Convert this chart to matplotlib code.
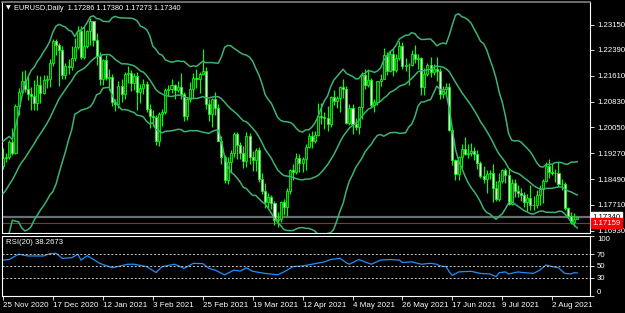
import numpy as np
import pandas as pd
import matplotlib
matplotlib.use('Agg')
import matplotlib.pyplot as plt
from matplotlib.transforms import blended_transform_factory

plt.rcParams['font.family'] = ['Liberation Sans', 'DejaVu Sans']

# EURUSD daily, 25 Nov 2020 .. 12 Aug 2021 (one entry per bar)
open_ = [1.1889, 1.1914, 1.1916, 1.1962, 1.1927, 1.2071, 1.2112, 1.2146, 1.2120, 1.2107,
         1.2100, 1.2079, 1.2133, 1.2110, 1.2148, 1.2150, 1.2199, 1.2266, 1.2254, 1.2239,
         1.2163, 1.2189, 1.2186, 1.2215, 1.2249, 1.2295, 1.2216, 1.2250, 1.2297, 1.2325,
         1.2270, 1.2219, 1.2151, 1.2208, 1.2155, 1.2156, 1.2081, 1.2076, 1.2131, 1.2106,
         1.2165, 1.2170, 1.2140, 1.2160, 1.2111, 1.2124, 1.2136, 1.2059, 1.2040, 1.2036,
         1.1963, 1.2046, 1.2050, 1.2118, 1.2120, 1.2134, 1.2118, 1.2126, 1.2106, 1.2040,
         1.2091, 1.2121, 1.2155, 1.2150, 1.2166, 1.2175, 1.2075, 1.2046, 1.2092, 1.2063,
         1.1965, 1.1916, 1.1847, 1.1899, 1.1928, 1.1984, 1.1952, 1.1929, 1.1903, 1.1978,
         1.1916, 1.1905, 1.1938, 1.1850, 1.1812, 1.1780, 1.1795, 1.1778, 1.1726, 1.1728,
         1.1779, 1.1764, 1.1813, 1.1875, 1.1870, 1.1914, 1.1898, 1.1910, 1.1947, 1.1979,
         1.1965, 1.1982, 1.2038, 1.2036, 1.2034, 1.2014, 1.2097, 1.2085, 1.2094, 1.2127,
         1.2122, 1.2019, 1.2063, 1.2016, 1.2005, 1.2068, 1.2164, 1.2133, 1.2149, 1.2073,
         1.2081, 1.2144, 1.2152, 1.2224, 1.2174, 1.2228, 1.2179, 1.2214, 1.2250, 1.2191,
         1.2193, 1.2192, 1.2228, 1.2212, 1.2213, 1.2126, 1.2166, 1.2193, 1.2172, 1.2180,
         1.2174, 1.2107, 1.2120, 1.2126, 1.1997, 1.1905, 1.1863, 1.1916, 1.1941, 1.1926,
         1.1928, 1.1935, 1.1924, 1.1896, 1.1858, 1.1848, 1.1865, 1.1866, 1.1822, 1.1790,
         1.1843, 1.1875, 1.1860, 1.1775, 1.1836, 1.1812, 1.1806, 1.1801, 1.1780, 1.1793,
         1.1771, 1.1770, 1.1801, 1.1818, 1.1843, 1.1888, 1.1869, 1.1868, 1.1867, 1.1835,
         1.1834, 1.1761, 1.1737, 1.1718, 1.17286]
high = [1.1942, 1.1928, 1.1966, 1.2003, 1.2077, 1.2124, 1.2175, 1.2178, 1.2167, 1.2127,
        1.2148, 1.2163, 1.2160, 1.2162, 1.2162, 1.2212, 1.2273, 1.2272, 1.2260, 1.2250,
        1.2199, 1.2212, 1.2250, 1.2276, 1.2310, 1.2310, 1.2310, 1.2300, 1.2335, 1.2326,
        1.2290, 1.2232, 1.2212, 1.2222, 1.2180, 1.2166, 1.2092, 1.2144, 1.2150, 1.2173,
        1.2190, 1.2177, 1.2170, 1.2171, 1.2137, 1.2152, 1.2145, 1.2075, 1.2058, 1.2043,
        1.2051, 1.2060, 1.2125, 1.2132, 1.2150, 1.2137, 1.2144, 1.2169, 1.2112, 1.2096,
        1.2143, 1.2169, 1.2181, 1.2173, 1.2243, 1.2186, 1.2091, 1.2093, 1.2113, 1.2075,
        1.1978, 1.1922, 1.1915, 1.1937, 1.1990, 1.1990, 1.1962, 1.1950, 1.1990, 1.1989,
        1.1934, 1.1942, 1.1945, 1.1866, 1.1836, 1.1808, 1.1800, 1.1782, 1.1749, 1.1782,
        1.1790, 1.1822, 1.1880, 1.1895, 1.1928, 1.1926, 1.1917, 1.1955, 1.1989, 1.1994,
        1.1995, 1.2079, 1.2080, 1.2050, 1.2071, 1.2100, 1.2117, 1.2100, 1.2130, 1.2150,
        1.2131, 1.2077, 1.2075, 1.2034, 1.2071, 1.2173, 1.2182, 1.2182, 1.2154, 1.2090,
        1.2146, 1.2166, 1.2245, 1.2233, 1.2235, 1.2244, 1.2225, 1.2266, 1.2262, 1.2213,
        1.2200, 1.2238, 1.2255, 1.2227, 1.2216, 1.2183, 1.2198, 1.2218, 1.2195, 1.2218,
        1.2183, 1.2131, 1.2140, 1.2138, 1.2002, 1.1911, 1.1920, 1.1954, 1.1975, 1.1954,
        1.1957, 1.1946, 1.1936, 1.1904, 1.1889, 1.1875, 1.1876, 1.1895, 1.1843, 1.1868,
        1.1880, 1.1881, 1.1881, 1.1850, 1.1849, 1.1830, 1.1823, 1.1809, 1.1805, 1.1832,
        1.1798, 1.1817, 1.1830, 1.1849, 1.1900, 1.1909, 1.1893, 1.1880, 1.1900, 1.1850,
        1.1840, 1.1765, 1.1750, 1.1745, 1.17380]
low = [1.1880, 1.1900, 1.1910, 1.1923, 1.1925, 1.2041, 1.2110, 1.2112, 1.2088, 1.2058,
       1.2058, 1.2057, 1.2080, 1.2105, 1.2125, 1.2128, 1.2191, 1.2223, 1.2129, 1.2152,
       1.2150, 1.2165, 1.2178, 1.2205, 1.2242, 1.2210, 1.2211, 1.2245, 1.2255, 1.2250,
       1.2193, 1.2132, 1.2132, 1.2147, 1.2117, 1.2071, 1.2053, 1.2062, 1.2082, 1.2092,
       1.2140, 1.2116, 1.2118, 1.2058, 1.2079, 1.2106, 1.2051, 1.2004, 1.2010, 1.1952,
       1.1950, 1.2010, 1.2044, 1.2100, 1.2110, 1.2092, 1.2112, 1.2092, 1.2023, 1.2026,
       1.2083, 1.2091, 1.2123, 1.2110, 1.2162, 1.2061, 1.2023, 1.2005, 1.2043, 1.1963,
       1.1893, 1.1836, 1.1835, 1.1871, 1.1916, 1.1910, 1.1910, 1.1883, 1.1884, 1.1894,
       1.1873, 1.1874, 1.1840, 1.1805, 1.1761, 1.1762, 1.1760, 1.1711, 1.1704, 1.1718,
       1.1739, 1.1736, 1.1804, 1.1845, 1.1864, 1.1870, 1.1870, 1.1877, 1.1942, 1.1943,
       1.1958, 1.1978, 1.2015, 1.2001, 1.1995, 1.2007, 1.2072, 1.2062, 1.2052, 1.2094,
       1.2016, 1.2012, 1.1986, 1.1996, 1.1985, 1.2029, 1.2120, 1.2127, 1.2065, 1.2052,
       1.2072, 1.2131, 1.2150, 1.2162, 1.2171, 1.2161, 1.2173, 1.2207, 1.2182, 1.2174,
       1.2133, 1.2190, 1.2199, 1.2182, 1.2104, 1.2103, 1.2160, 1.2157, 1.2163, 1.2145,
       1.2092, 1.2094, 1.2103, 1.1995, 1.1892, 1.1847, 1.1845, 1.1883, 1.1923, 1.1912,
       1.1920, 1.1905, 1.1880, 1.1851, 1.1837, 1.1807, 1.1849, 1.1781, 1.1782, 1.1782,
       1.1837, 1.1837, 1.1772, 1.1771, 1.1795, 1.1796, 1.1784, 1.1765, 1.1752, 1.1757,
       1.1755, 1.1761, 1.1770, 1.1776, 1.1840, 1.1853, 1.1861, 1.1840, 1.1826, 1.1815,
       1.1755, 1.1731, 1.1712, 1.1706, 1.17273]
close = [1.1914, 1.1916, 1.1962, 1.1927, 1.2071, 1.2112, 1.2146, 1.2120, 1.2107, 1.2100,
         1.2079, 1.2133, 1.2110, 1.2148, 1.2150, 1.2199, 1.2266, 1.2254, 1.2239, 1.2163,
         1.2189, 1.2186, 1.2215, 1.2249, 1.2295, 1.2216, 1.2250, 1.2297, 1.2325, 1.2270,
         1.2219, 1.2151, 1.2208, 1.2155, 1.2156, 1.2081, 1.2076, 1.2131, 1.2106, 1.2165,
         1.2170, 1.2140, 1.2160, 1.2111, 1.2124, 1.2136, 1.2059, 1.2040, 1.2036, 1.1963,
         1.2046, 1.2050, 1.2118, 1.2120, 1.2134, 1.2118, 1.2126, 1.2106, 1.2040, 1.2091,
         1.2121, 1.2155, 1.2150, 1.2166, 1.2175, 1.2075, 1.2046, 1.2092, 1.2063, 1.1965,
         1.1916, 1.1847, 1.1899, 1.1928, 1.1984, 1.1952, 1.1929, 1.1903, 1.1978, 1.1916,
         1.1905, 1.1938, 1.1850, 1.1812, 1.1780, 1.1795, 1.1778, 1.1726, 1.1728, 1.1779,
         1.1764, 1.1813, 1.1875, 1.1870, 1.1914, 1.1898, 1.1910, 1.1947, 1.1979, 1.1965,
         1.1982, 1.2038, 1.2036, 1.2034, 1.2014, 1.2097, 1.2085, 1.2094, 1.2127, 1.2122,
         1.2019, 1.2063, 1.2016, 1.2005, 1.2068, 1.2164, 1.2133, 1.2149, 1.2073, 1.2081,
         1.2144, 1.2152, 1.2224, 1.2174, 1.2228, 1.2179, 1.2214, 1.2250, 1.2191, 1.2193,
         1.2192, 1.2228, 1.2212, 1.2213, 1.2126, 1.2166, 1.2193, 1.2172, 1.2180, 1.2174,
         1.2107, 1.2120, 1.2126, 1.1997, 1.1905, 1.1863, 1.1916, 1.1941, 1.1926, 1.1928,
         1.1935, 1.1924, 1.1896, 1.1858, 1.1848, 1.1865, 1.1866, 1.1822, 1.1790, 1.1843,
         1.1875, 1.1860, 1.1775, 1.1836, 1.1812, 1.1806, 1.1801, 1.1780, 1.1793, 1.1771,
         1.1770, 1.1801, 1.1818, 1.1843, 1.1888, 1.1869, 1.1868, 1.1867, 1.1835, 1.1834,
         1.1761, 1.1737, 1.1718, 1.1729, 1.17340]

# the 20 closes before the first visible bar, needed for the bands
warmup_close = [1.1746, 1.1674, 1.1647, 1.1641, 1.1716, 1.1722, 1.1833, 1.1873, 1.1813, 1.1813,
                1.1778, 1.1807, 1.1833, 1.1856, 1.1860, 1.1850, 1.1871, 1.1856, 1.1842, 1.1889]

# RSI(20): bar index -> value
rsi_bar = [0, 2, 5, 8, 13, 15, 17, 19, 22, 24, 25, 27, 31, 35, 40, 42, 46, 49, 51, 55,
           58, 61, 64, 66, 68, 71, 74, 76, 78, 80, 84, 88, 90, 93, 96, 99, 103, 105, 108, 110,
           111, 114, 118, 121, 124, 127, 128, 131, 134, 137, 139, 140, 142, 143, 144, 146, 150, 153, 156, 158,
           159, 161, 162, 165, 167, 170, 172, 174, 176, 178, 180, 182, 183, 184]
rsi_val = [60, 61, 70, 67, 67, 71, 71.5, 63, 64, 70, 60, 67.5, 54.5, 47, 53, 53, 49, 39, 49, 53,
           46, 54.5, 54, 46, 43, 35, 43, 41.5, 47, 41, 37.5, 35, 40, 49, 50, 53, 57, 61, 63, 55.6,
           53, 61, 53, 60, 61, 60, 56, 57, 53, 54.5, 53, 50, 49, 40, 34, 40, 41, 37.5, 36.5, 32,
           38.7, 40, 36.5, 40, 38.7, 37.5, 43, 51.7, 49, 47, 37.5, 36.5, 38.7, 38.27]

tick_bars = [0, 16, 32, 48, 64, 80, 96, 112, 128, 144, 160, 176]
tick_labels = ['25 Nov 2020', '17 Dec 2020', '12 Jan 2021', '3 Feb 2021', '25 Feb 2021',
               '19 Mar 2021', '12 Apr 2021', '4 May 2021', '26 May 2021', '17 Jun 2021',
               '9 Jul 2021', '2 Aug 2021']
price_ticks = [1.23150, 1.22390, 1.21610, 1.20830, 1.20050, 1.19270, 1.18490, 1.17710, 1.16930]
bid = 1.17340
alert_level = 1.17159

# Bollinger bands 20, 2
all_close = pd.Series(warmup_close + close)
mid = all_close.rolling(20).mean()
dev = all_close.rolling(20).std(ddof=0)
n0 = len(warmup_close)
bb_mid = mid.to_numpy()[n0:]
bb_up = (mid + 2 * dev).to_numpy()[n0:]
bb_lo = (mid - 2 * dev).to_numpy()[n0:]

bars = np.arange(len(close))
o = np.array(open_)
c = np.array(close)

W, H = 625, 313
fig = plt.figure(figsize=(W / 100, H / 100), dpi=100, facecolor='black')
ax = fig.add_axes([2 / W, 1 - 233 / H, 588 / W, 231 / H], facecolor='black')
rsi_ax = fig.add_axes([2 / W, 1 - 296 / H, 588 / W, 60 / H], facecolor='black', sharex=ax)

# candles: bull hollow (dark), bear white
ax.vlines(bars, low, high, color='#00ff00', linewidth=0.85, zorder=2)
faces = np.where(c >= o, '#0a4a0a', 'white')
ax.bar(bars, np.abs(c - o), bottom=np.minimum(o, c), width=0.66, color=faces,
       edgecolor='#00ff00', linewidth=0.6, zorder=2)

for band in (bb_up, bb_mid, bb_lo):
    ax.plot(bars, band, color='#3cb371', linewidth=1.1, zorder=3)

ax.axhline(bid, color='#6e6e6e', linewidth=1.6, zorder=1)
ax.axhline(alert_level, color='#ff0000', linewidth=0.8, zorder=1)

ax.set_xlim(-0.32, 188.1)
ax.set_ylim(1.16861, 1.23835)
ax.yaxis.tick_right()
ax.set_yticks(price_ticks)
ax.set_yticklabels([f'{p:.5f}' for p in price_ticks])
ax.tick_params(axis='y', colors='white', labelsize=5.6, length=3, width=0.6, pad=2)
ax.tick_params(axis='x', bottom=False, labelbottom=False)
for side in ('left', 'right', 'bottom'):
    ax.spines[side].set_color('white')
    ax.spines[side].set_linewidth(0.8)
ax.spines['top'].set_color('#808080')
ax.spines['top'].set_linewidth(1.2)

tr = blended_transform_factory(ax.transAxes, ax.transData)
ax.text(1.004, bid, '1.17340', transform=tr, ha='left', va='center', fontsize=5.6, color='black',
        bbox=dict(boxstyle='square,pad=0.18', fc='white', ec='white'), clip_on=False, zorder=5)
ax.text(1.004, alert_level, '1.17159', transform=tr, ha='left', va='center', fontsize=5.6,
        color='white', bbox=dict(boxstyle='square,pad=0.2', fc='#ff0000', ec='#ff0000'),
        clip_on=False, zorder=6)

fig.text(6 / W, 1 - 8 / H, '\u25bc', color='white', fontsize=4.5, va='center', family=['DejaVu Sans'])
fig.text(14 / W, 1 - 8 / H, 'EURUSD,Daily  1.17286 1.17380 1.17273 1.17340', color='white',
         fontsize=5.3, va='center')

# RSI sub window
rsi_ax.plot(rsi_bar, rsi_val, color='#1e90ff', linewidth=0.9)
for lvl in (30, 50, 70):
    rsi_ax.axhline(lvl, color='#c8c8c8', linewidth=0.7, linestyle=(0, (2, 2)))
rsi_ax.set_ylim(-0.8, 100.8)
rsi_ax.yaxis.tick_right()
rsi_ax.set_yticks([100, 70, 50, 30, 0])
rsi_ax.set_yticklabels(['100', '70', '50', '30', '0'])
rsi_ax.tick_params(axis='y', colors='white', labelsize=5.6, length=3, width=0.6, pad=2)
ylab = rsi_ax.get_yticklabels()
ylab[0].set_va('top')
ylab[-1].set_va('bottom')
rsi_ax.set_xticks(tick_bars)
rsi_ax.set_xticklabels(tick_labels)
rsi_ax.tick_params(axis='x', colors='white', labelsize=5.8, length=3, width=0.6, pad=1.5)
for lab in rsi_ax.get_xticklabels():
    lab.set_ha('left')
for side in rsi_ax.spines.values():
    side.set_color('white')
    side.set_linewidth(0.8)
rsi_ax.text(4 / 588, 0.95, 'RSI(20) 38.2673', transform=rsi_ax.transAxes, color='white',
            fontsize=5.6, va='top', ha='left')

fig.savefig('out.png', dpi=100, facecolor='black')
